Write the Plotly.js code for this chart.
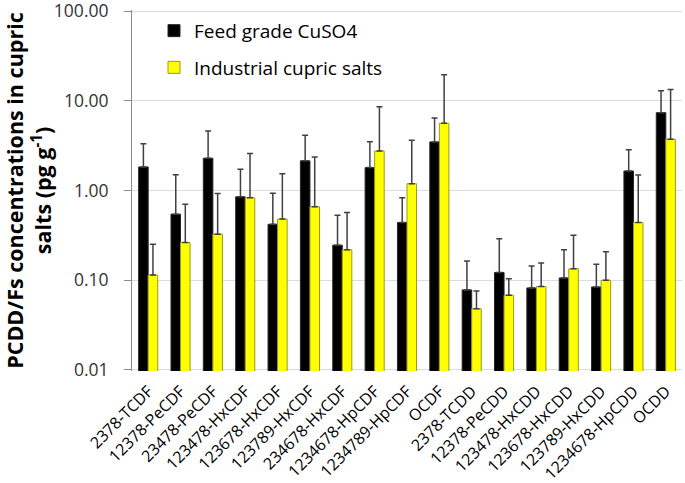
<!DOCTYPE html>
<html>
<head>
<meta charset="utf-8">
<script src="https://cdn.plot.ly/plotly-3.0.1.min.js"></script>
<style>
  html, body { margin: 0; padding: 0; background: #fff; }
  #chart { width: 685px; height: 483px; }
</style>
</head>
<body>
<div id="chart"></div>
<script>
// congeners on the x axis
const congeners = [
    "2378-TCDF", "12378-PeCDF", "23478-PeCDF", "123478-HxCDF", "123678-HxCDF",
    "123789-HxCDF", "234678-HxCDF", "1234678-HpCDF", "1234789-HpCDF", "OCDF",
    "2378-TCDD", "12378-PeCDD", "123478-HxCDD", "123678-HxCDD", "123789-HxCDD",
    "1234678-HpCDD", "OCDD"
];

// mean concentrations (pg/g) and upper error (SD)
const feedMean = [1.83, 0.545, 2.29, 0.85, 0.42, 2.14, 0.246, 1.80, 0.44, 3.48,
                  0.078, 0.122, 0.082, 0.106, 0.084, 1.65, 7.37];
const feedSD   = [1.50, 0.95, 2.32, 0.88, 0.51, 1.99, 0.285, 1.70, 0.39, 2.95,
                  0.086, 0.167, 0.062, 0.112, 0.067, 1.20, 5.6];

const indMean = [0.114, 0.263, 0.326, 0.83, 0.48, 0.66, 0.218, 2.76, 1.19, 5.61,
                 0.048, 0.068, 0.085, 0.134, 0.100, 0.44, 3.73];
const indSD   = [0.138, 0.44, 0.60, 1.75, 1.06, 1.71, 0.35, 5.84, 2.44, 13.9,
                 0.028, 0.036, 0.071, 0.184, 0.107, 1.05, 9.6];

const yTickVals = [0.01, 0.1, 1, 10, 100];
const yTickText = ["0.01", "0.10", "1.00", "10.00", "100.00"];

const zeros = congeners.map(() => 0);

const feed = {
    x: congeners,
    y: feedMean,
    name: "Feed grade CuSO4",
    type: "bar",
    legendgroup: "a",
    marker: { color: "#000000", line: { color: "#262626", width: 1 } },
    error_y: {
        type: "data", symmetric: false, array: feedSD, arrayminus: zeros,
        color: "#404040", thickness: 1.5, width: 3
    }
};

const industrial = {
    x: congeners,
    y: indMean,
    name: "Industrial cupric salts",
    type: "bar",
    legendgroup: "b",
    marker: { color: "#ffff00", line: { color: "#9a9a20", width: 1 } },
    error_y: {
        type: "data", symmetric: false, array: indSD, arrayminus: zeros,
        color: "#404040", thickness: 1.5, width: 3
    }
};

const layout = {
    width: 685,
    height: 483,
    margin: { l: 132, r: 3, t: 10, b: 112 },
    paper_bgcolor: "#ffffff",
    plot_bgcolor: "#ffffff",
    barmode: "group",
    bargap: 0.41,
    bargroupgap: 0,
    font: { family: "Open Sans", size: 14, color: "#000" },
    showlegend: true,
    legend: {
        x: 0.04, y: 0.995, xanchor: "left", yanchor: "top",
        bgcolor: "rgba(0,0,0,0)",
        font: { family: "Open Sans", size: 19, color: "#000" },
        traceorder: "grouped",
        tracegroupgap: 9,
        itemwidth: 30
    },
    xaxis: {
        type: "category",
        tickangle: -45,
        tickfont: { family: "Open Sans", size: 16, color: "#000" },
        ticklabelstandoff: 7,
        ticklabeloverflow: "allow",
        showgrid: false,
        showline: false,
        ticks: ""
    },
    yaxis: {
        type: "log",
        range: [-2.012, 2.012],
        tickvals: yTickVals,
        ticktext: yTickText,
        tickfont: { family: "Open Sans", size: 17.5, color: "#333" },
        ticklabelstandoff: 12,
        ticklabeloverflow: "allow",
        showgrid: true,
        gridcolor: "#d5dde8",
        gridwidth: 1,
        showline: true,
        linecolor: "#8c8c8c",
        linewidth: 1,
        ticks: "outside",
        ticklen: 7,
        tickcolor: "#8c8c8c",
        zeroline: false,
        title: {
            text: "<b>PCDD/Fs concentrations in cupric<br>salts (pg g<sup>-1</sup>)</b>",
            font: { family: "Open Sans", size: 21.5, color: "#000" },
            standoff: 2
        }
    }
};

Plotly.newPlot("chart", [feed, industrial], layout, { displayModeBar: false, staticPlot: true });
</script>
</body>
</html>
